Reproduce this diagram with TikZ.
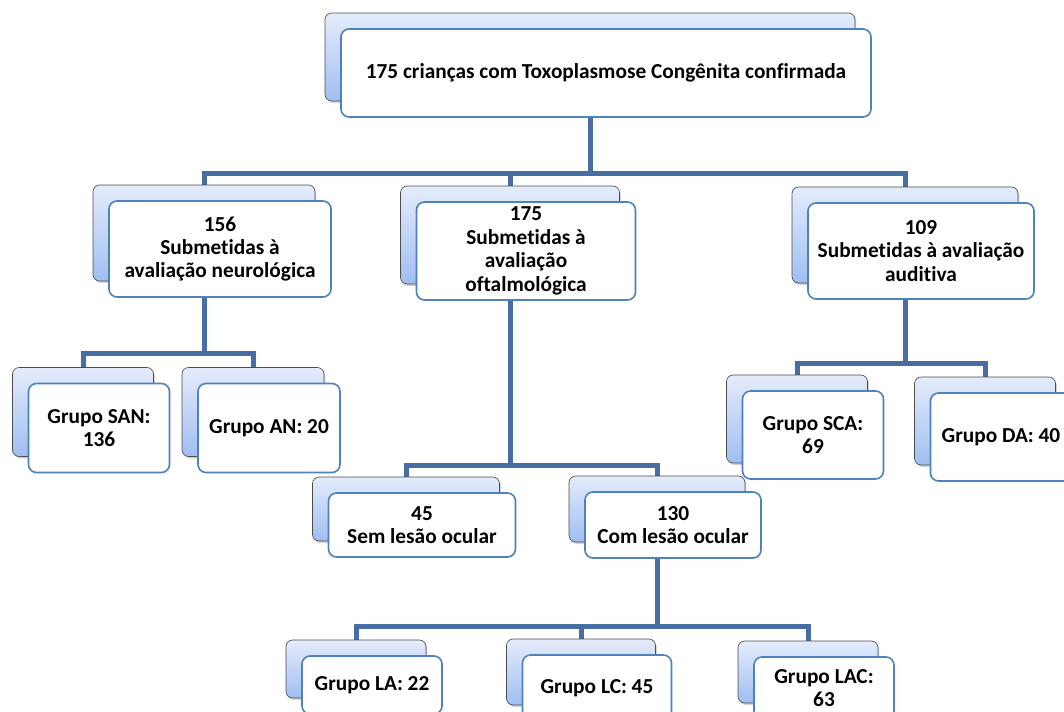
\documentclass[tikz,border=0pt]{standalone}
\usepackage{fontspec}
\setmainfont{Carlito}[Ligatures=NoCommon]
\usetikzlibrary{shadows,backgrounds}
\definecolor{linkblue}{RGB}{71,109,163}
\definecolor{edgeblue}{RGB}{79,129,189}
\definecolor{cardtop}{RGB}{228,236,251}
\definecolor{cardbot}{RGB}{160,190,242}
\def\px{0.75pt}
\tikzset{
  backcard/.style={draw=black!70, line width=0.5pt, rounded corners=5pt,
    top color=cardtop, bottom color=cardbot,
    drop shadow={shadow xshift=1pt, shadow yshift=-1.5pt, opacity=0.35}},
  frontcard/.style={draw=edgeblue, line width=1.2pt, rounded corners=6pt, fill=white,
    align=center, inner sep=0pt, font=\bfseries\fontsize{16}{17.6}\selectfont},
  conn/.style={draw=linkblue, line width=3.75pt}
}
% name, x, y, width, height, text
\newcommand{\card}[6]{%
  \node[backcard, minimum width=#4*\px, minimum height=#5*\px] (#1b) at (#2,#3) {};
  \node[frontcard, minimum width=#4*\px, minimum height=#5*\px] (#1) at (#2+16,#3+16) {#6};
}
\begin{document}
\begin{tikzpicture}[x=0.75pt,y=-0.75pt]
        \useasboundingbox (0,0) rectangle (1064,711);
        \clip (0,0) rectangle (1064,711);

        % cards
        \card{top}{590}{57}{530}{88}{175 crianças com Toxoplasmose Congênita confirmada}
        \card{neuro}{204}{233}{222}{96}{156\\Submetidas à\\avaliação neurológica}
        \card{oftal}{510}{235}{219}{98}{175\\Submetidas à\\avaliação\\oftalmológica}
        \card{audit}{905}{235}{226}{96}{109\\Submetidas à avaliação\\auditiva}
        \card{san}{83}{412}{141}{89}{Grupo SAN:\\136}
        \card{an}{253}{412}{142}{89}{Grupo AN: 20}
        \card{sca}{797}{419}{141}{88}{Grupo SCA:\\69}
        \card{da}{985}{421}{141}{88}{Grupo DA: 40}
        \card{sem}{406}{509}{187}{64}{45\\Sem lesão ocular}
        \card{com}{657}{509}{176}{66}{130\\Com lesão ocular}
        \card{la}{356}{669}{140}{58}{Grupo LA: 22}
        \card{lc}{581}{672}{149}{66}{Grupo LC: 45}
        \card{lac}{808}{672}{140}{62}{Grupo LAC:\\63}

        \coordinate (topbus) at (590,173);
        \coordinate (neurobus) at (204,353);
        \coordinate (oftalbus) at (510,465);
        \coordinate (auditbus) at (905,363);
        \coordinate (combus) at (657,626);

        % connectors behind the cards
        \begin{scope}[on background layer]
          \draw[conn] (topb.south) -- (topbus) -| (neurob.north);
          \draw[conn] (topbus) -| (oftalb.north);
          \draw[conn] (topbus) -| (auditb.north);
          \draw[conn] (neurob.south) -- (neurobus) -| (sanb.north);
          \draw[conn] (neurobus) -| (anb.north);
          \draw[conn] (oftalb.south) -- (oftalbus) -| (semb.north);
          \draw[conn] (oftalbus) -| (comb.north);
          \draw[conn] (auditb.south) -- (auditbus) -| (scab.north);
          \draw[conn] (auditbus) -| (dab.north);
          \draw[conn] (comb.south) -- (combus) -| (lab.north);
          \draw[conn] (combus) -| (lcb.north);
          \draw[conn] (combus) -| (lacb.north);
        \end{scope}
      \end{tikzpicture}
\end{document}
